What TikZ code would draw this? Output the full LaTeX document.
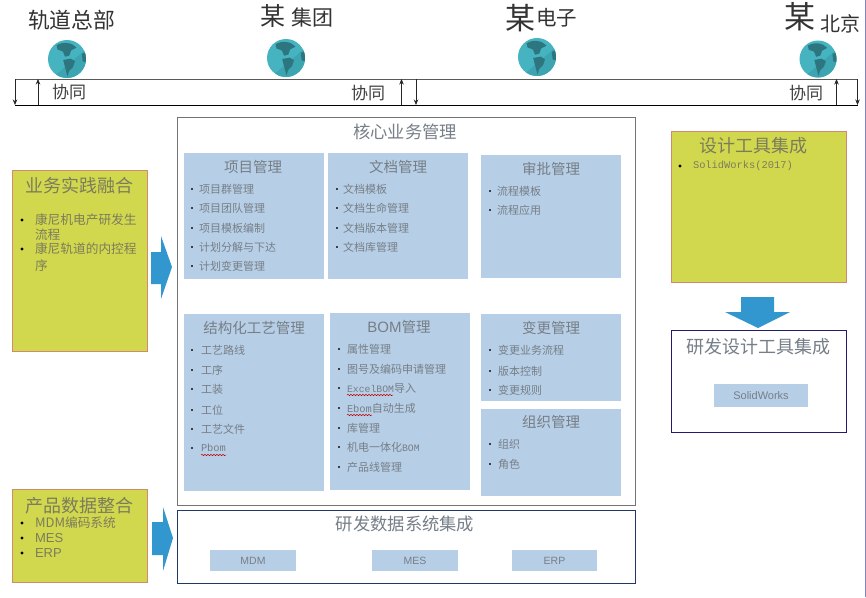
\documentclass[tikz,border=0pt]{standalone}
\usepackage{fontspec}
\setmainfont{Liberation Sans}
\newfontfamily\cjk{Noto Sans CJK SC}
\newfontfamily\lmono{Liberation Mono}
\usetikzlibrary{arrows.meta,decorations.pathmorphing}
\definecolor{panelblue}{HTML}{B7CFE6}
\definecolor{olivefill}{HTML}{D2D84D}
\definecolor{salmon}{HTML}{D08A70}
\definecolor{txtgray}{HTML}{767E87}
\definecolor{olivetxt}{HTML}{7C7C5C}
\definecolor{arrowblue}{HTML}{3197CE}
\definecolor{navy}{HTML}{1F3864}
\definecolor{indigo}{HTML}{231B6E}
\definecolor{teal1}{HTML}{45B4C0}
\definecolor{teal2}{HTML}{3CA5B1}
\definecolor{teal3}{HTML}{2D7680}
\newcommand{\fsz}[1]{\fontsize{#1}{#1}\selectfont}
\tikzset{
  x=1pt,y=-1pt,
  txt/.style={inner sep=0,outer sep=0},
  head/.style={txt,text=black!80,font=\cjk},
  panel/.style={fill=panelblue,draw=none},
  ptitle/.style={txt,text=txtgray,font=\cjk\fsz{14.5}},
  mtitle/.style={txt,text=txtgray,font=\cjk\fsz{17.3}},
  ytitle/.style={txt,text=olivetxt,font=\cjk\fsz{18}},
  itemtext/.style={txt,anchor=west,text=txtgray,font=\cjk\fsz{11}},
  ybox/.style={fill=olivefill,draw=salmon,line width=1pt},
  ylist/.style={txt,anchor=west,text=olivetxt,font=\cjk\fsz{12.7}},
  frame/.style={draw=#1,line width=1pt,fill=none},
  chip/.style={fill=panelblue,draw=none,text=txtgray,font=\fsz{10.5},inner sep=0,outer sep=0},
  blockarrow/.style={fill=arrowblue,draw=none},
  link/.style={line width=0.7pt,draw=black!85,-{Stealth[length=5.5pt,width=4.5pt]}},
  wavy/.style={draw=red!75!black,line width=0.5pt,decorate,decoration={snake,amplitude=0.7pt,segment length=3pt}},
  xieton/.style={txt,text=black!75,font=\cjk\fsz{17}}
}
\newcommand{\itm}[4]{\node[itemtext] (#1) at (#2,#3) {#4};}
\newcommand{\dotb}[3][txtgray!50!black]{\fill[#1] (#2-1.4,#3-1.4) rectangle (#2+1.4,#3+1.4);}
\newcommand{\dotk}[2]{\fill[black] (#1,#2) circle (1.7);}
\newcommand{\globe}[4]{%
  \begin{scope}[shift={(#2,#3)}]
    \fill[teal1] (0,0) circle (#4);
    \begin{scope}
      \clip (0,0) circle (#4);
      \fill[teal2] (#4*-0.9,#4*1.1) -- (#4*1.1,#4*-0.6) -- (#4*1.2,#4*1.2) -- cycle;
      \fill[teal3] (#4*-0.55,#4*-0.72) .. controls (#4*-0.2,#4*-0.95) and (#4*0.3,#4*-0.85) .. (#4*0.5,#4*-0.6)
        -- (#4*0.22,#4*-0.45) -- (#4*0.12,#4*-0.18) -- (#4*-0.1,#4*-0.12) -- (#4*-0.22,#4*-0.4) -- (#4*-0.5,#4*-0.5) -- cycle;
      \fill[teal3] (#4*-0.2,#4*0.05) -- (#4*0.2,#4*-0.02) -- (#4*0.42,#4*0.12) -- (#4*0.32,#4*0.42)
        -- (#4*0.12,#4*0.62) -- (#4*0.02,#4*0.92) -- (#4*-0.08,#4*0.52) -- cycle;
      \fill[teal3] (#4*0.78,#4*-0.28) -- (#4*1.05,#4*-0.35) -- (#4*1.05,#4*0.2) -- (#4*0.82,#4*0.12) -- cycle;
    \end{scope}
    \coordinate (#1) at (0,0);
  \end{scope}}
\begin{document}
\begin{tikzpicture}
\useasboundingbox (0,0) rectangle (866,597);
\fill[white] (0,0) rectangle (866,597);
\draw[draw=gray!60!blue!70,line width=1pt] (865.5,0) -- (865.5,597);

% --- sites
\node[head,anchor=west,font=\cjk\fsz{21.8}] (s1) at (28,20) {轨道总部};
\node[head,anchor=west,font=\cjk\fsz{25}] (s2a) at (260,16) {某};
\node[head,anchor=west,font=\cjk\fsz{21}] (s2b) at (291,17) {集团};
\node[head,anchor=west,font=\cjk\fsz{30}] (s3a) at (505,18) {某};
\node[head,anchor=west,font=\cjk\fsz{20.5}] (s3b) at (536,18) {电子};
\node[head,anchor=west,font=\cjk\fsz{31}] (s4a) at (784,17) {某};
\node[head,anchor=west,font=\cjk\fsz{20}] (s4b) at (820,24) {北京};
\globe{g1}{67}{59}{19}
\globe{g2}{286}{58}{19}
\globe{g3}{537}{57}{19}
\globe{g4}{818}{59}{18.5}

% --- collaboration band
\coordinate (bandTL) at (15,79);
\coordinate (bandTR) at (858,79);
\coordinate (bandBL) at (15,105);
\coordinate (bandBR) at (858,105);
\draw[draw=black!65,line width=0.9pt] (bandTL) -- (bandTR);
\draw[draw=black,line width=0.9pt] (bandBL) -- (bandBR);
\coordinate (a1) at (15,79);  \coordinate (a1e) at (15,105);
\coordinate (a2) at (38,105); \coordinate (a2e) at (38,79);
\coordinate (a3) at (401.5,105); \coordinate (a3e) at (401.5,79);
\coordinate (a4) at (416,79); \coordinate (a4e) at (416,105);
\coordinate (a5) at (836.5,105); \coordinate (a5e) at (836.5,79);
\coordinate (a6) at (857.5,79); \coordinate (a6e) at (857.5,105);
\draw[link] (a1) -- (a1e);
\draw[link] (a2) -- (a2e);
\draw[link] (a3) -- (a3e);
\draw[link] (a4) -- (a4e);
\draw[link] (a5) -- (a5e);
\draw[link] (a6) -- (a6e);
\node[xieton,anchor=west] (x1) at (52,92) {协同};
\node[xieton,anchor=west] (x2) at (351,93) {协同};
\node[xieton,anchor=west] (x3) at (789,93) {协同};

% --- core frame
\draw[frame=black!55] (177,117) rectangle (635,505);
\node[mtitle] (coreT) at (405,132) {核心业务管理};
\fill[panel] (184,153) rectangle (324,279);
\fill[panel] (328,153) rectangle (468,279);
\fill[panel] (481,155) rectangle (621,278);
\fill[panel] (184,314) rectangle (324,491);
\fill[panel] (330,313) rectangle (470,490);
\fill[panel] (481,314) rectangle (621,401);
\fill[panel] (481,409) rectangle (621,496);
\node[ptitle] (p1) at (253,167) {项目管理};
\node[ptitle] (p2) at (398,167) {文档管理};
\node[ptitle] (p3) at (551,169) {审批管理};
\node[ptitle] (p4) at (254,328) {结构化工艺管理};
\node[ptitle,font=\fsz{15}] (p5) at (399,327) {BOM{\cjk\fsz{14.5}管理}};
\node[ptitle] (p6) at (551,328) {变更管理};
\node[ptitle] (p7) at (551,422) {组织管理};

% project
\itm{i11}{199}{189}{项目群管理}\dotb{192}{189}
\itm{i12}{199}{208}{项目团队管理}\dotb{192}{208}
\itm{i13}{199}{228}{项目模板编制}\dotb{192}{228}
\itm{i14}{199}{247}{计划分解与下达}\dotb{192}{247}
\itm{i15}{199}{266}{计划变更管理}\dotb{192}{266}
% docs
\itm{i21}{343}{189}{文档模板}\dotb{337}{189}
\itm{i22}{343}{208}{文档生命管理}\dotb{337}{208}
\itm{i23}{343}{228}{文档版本管理}\dotb{337}{228}
\itm{i24}{343}{247}{文档库管理}\dotb{337}{247}
% approval
\itm{i31}{497}{191}{流程模板}\dotb{490}{191}
\itm{i32}{497}{210}{流程应用}\dotb{490}{210}
% process
\itm{i41}{201}{350}{工艺路线}\dotb{192}{350}
\itm{i42}{201}{370}{工序}\dotb{192}{370}
\itm{i43}{201}{389}{工装}\dotb{192}{389}
\itm{i44}{201}{410}{工位}\dotb{192}{410}
\itm{i45}{201}{429}{工艺文件}\dotb{192}{429}
\itm{i46}{201}{448}{{\lmono\fsz{10.4}Pbom}}\dotb{192}{448}
% BOM
\itm{i51}{347}{349}{属性管理}\dotb{339}{349}
\itm{i52}{347}{369}{图号及编码申请管理}\dotb{339}{369}
\itm{i53}{347}{388}{{\lmono\fsz{9.8}ExcelBOM}导入}\dotb{339}{388}
\itm{i54}{347}{408}{{\lmono\fsz{10.4}Ebom}自动生成}\dotb{339}{408}
\itm{i55}{347}{428}{库管理}\dotb{339}{428}
\itm{i56}{347}{447}{机电一体化{\lmono\fsz{9.8}BOM}}\dotb{339}{447}
\itm{i57}{347}{467}{产品线管理}\dotb{339}{467}
% change
\itm{i61}{498}{350}{变更业务流程}\dotb{490}{350}
\itm{i62}{498}{371}{版本控制}\dotb{490}{371}
\itm{i63}{498}{390}{变更规则}\dotb{490}{390}
% org
\itm{i71}{498}{444}{组织}\dotb{490}{444}
\itm{i72}{498}{464}{角色}\dotb{490}{464}
% spell-check squiggles
\draw[wavy] (201,455) -- (226,455);
\draw[wavy] (347,395) -- (393,395);
\draw[wavy] (347,415) -- (372,415);

% --- left yellow boxes
\draw[ybox] (12,170) rectangle (147,351);
\node[ytitle] (y1) at (79,186) {业务实践融合};
\dotk{22}{220}
\node[ylist] (y11) at (35,220) {康尼机电产研发生};
\node[ylist] (y12) at (35,235) {流程};
\dotk{22}{249}
\node[ylist] (y13) at (35,249) {康尼轨道的内控程};
\node[ylist] (y14) at (35,266) {序};
\draw[ybox] (12,489) rectangle (147,582);
\node[ytitle] (y2) at (79,506) {产品数据整合};
\dotk{22}{523}
\node[ylist] (y21) at (35,523) {{\fsz{13}MDM}编码系统};
\dotk{22}{538}
\node[ylist,font=\fsz{13}] (y22) at (35,538) {MES};
\dotk{22}{553}
\node[ylist,font=\fsz{13}] (y23) at (35,553) {ERP};

% --- block arrows
\fill[blockarrow] (151,252) -- (161,252) -- (161,236) -- (172,267) -- (161,299) -- (161,284) -- (151,284) -- cycle;
\fill[blockarrow] (152,522) -- (163,522) -- (163,507) -- (173,538) -- (163,571) -- (163,555) -- (152,555) -- cycle;
\fill[blockarrow] (741,297) -- (774,297) -- (774,312) -- (790,312) -- (758,328) -- (725,312) -- (741,312) -- cycle;

% --- data integration
\draw[frame=navy] (177,510) rectangle (635,583);
\node[mtitle] (dataT) at (405,524) {研发数据系统集成};
\node[chip,minimum width=86pt,minimum height=21pt] (mdm) at (253,560.5) {MDM};
\node[chip,minimum width=86pt,minimum height=21pt] (mes) at (415,560.5) {MES};
\node[chip,minimum width=85pt,minimum height=21pt] (erp) at (554.5,560.5) {ERP};

% --- right column
\draw[ybox] (671,131) rectangle (846,282);
\node[ytitle] (y3) at (753,146) {设计工具集成};
\dotk{680}{166}
\node[ylist,font=\lmono\fsz{10.4}] (y31) at (693,166) {SolidWorks(2017)};
\draw[frame=indigo] (671,330) rectangle (846,432);
\node[ytitle,text=txtgray] (toolT) at (758,347) {研发设计工具集成};
\node[chip,minimum width=94pt,minimum height=23pt,font=\fsz{11}] (sw) at (761,395.5) {SolidWorks};
\end{tikzpicture}
\end{document}
